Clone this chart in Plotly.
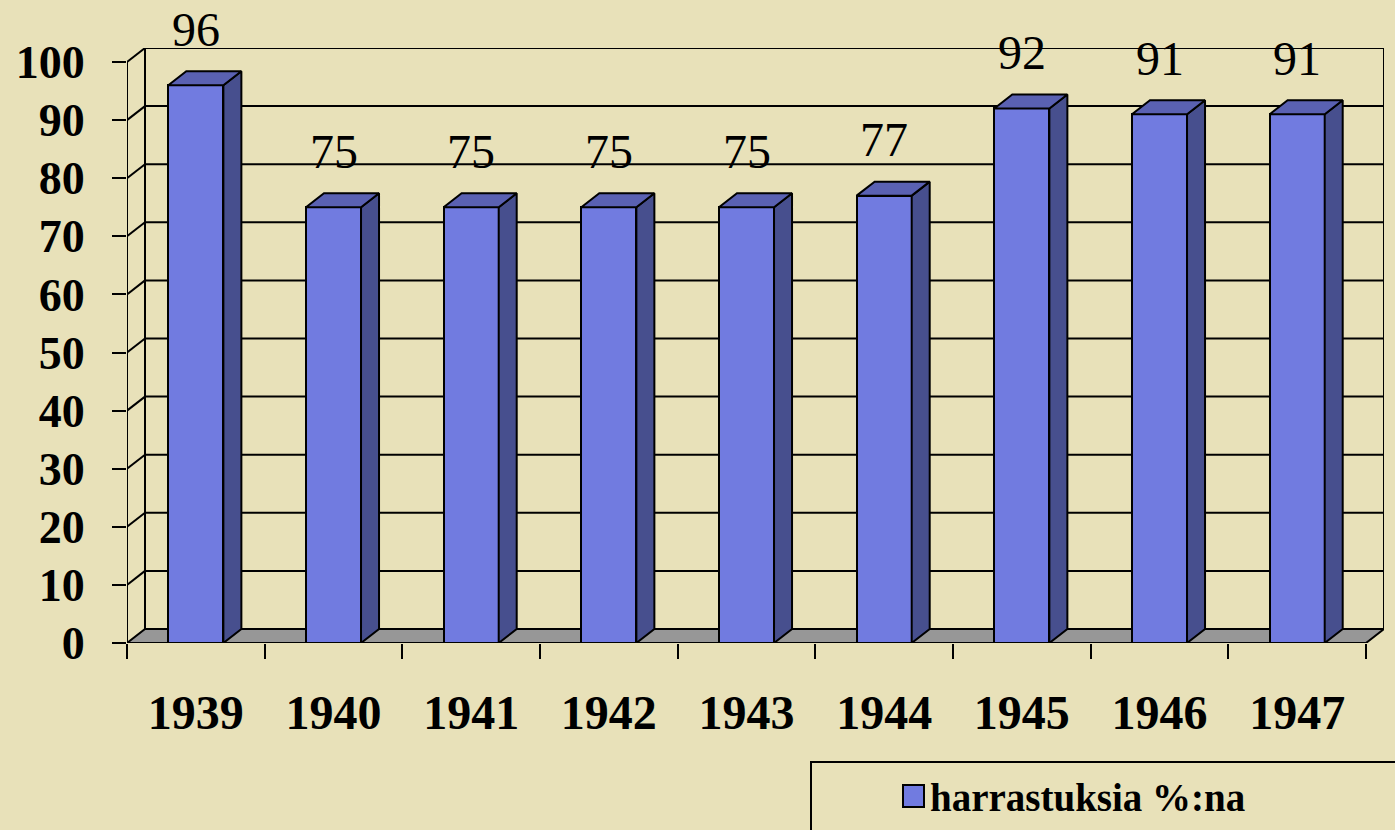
import plotly.graph_objects as go

# ---------------- data ----------------
years = ["1939", "1940", "1941", "1942", "1943", "1944", "1945", "1946", "1947"]
values = [96, 75, 75, 75, 75, 77, 92, 91, 91]
y_ticks = [0, 10, 20, 30, 40, 50, 60, 70, 80, 90, 100]
series_name = "harrastuksia %:na"

# ---------------- style ----------------
BG = "#E8E1B9"
FRONT = "#717BE0"
SIDE = "#474F8E"
TOP = "#5A61B2"
FLOOR = "#979797"
EDGE = "black"
FONT = "Liberation Serif"
LW = 2

W, H = 1395, 830
L, R, T, B = 127, 11, 48, 187
pw, ph = W - L - R, H - T - B
n = len(years)
ymax = y_ticks[-1]
DX_PX, DY_PX = 18, 14
dxu = DX_PX * n / (pw - DX_PX)          # depth offset in x data units
dyu = DY_PX * ymax / (ph - DY_PX)       # depth offset in y data units
bw = 0.4
xc = [i + 0.5 for i in range(n)]

fig = go.Figure()

# front faces
fig.add_trace(go.Bar(
    x=xc, y=values, width=bw, name=series_name,
    marker=dict(color=FRONT, line=dict(color=EDGE, width=LW)),
    showlegend=False, hovertemplate="%{y}<extra></extra>"))

# side faces
sx, sy = [], []
for c, v in zip(xc, values):
    x1 = c + bw / 2
    sx += [x1, x1 + dxu, x1 + dxu, x1, x1, None]
    sy += [0, dyu, v + dyu, v, 0, None]
fig.add_trace(go.Scatter(x=sx, y=sy, mode="lines", fill="toself", fillcolor=SIDE,
                         line=dict(color=EDGE, width=LW), showlegend=False, hoverinfo="skip"))
# top faces
tx, ty = [], []
for c, v in zip(xc, values):
    x0, x1 = c - bw / 2, c + bw / 2
    tx += [x0, x1, x1 + dxu, x0 + dxu, x0, None]
    ty += [v, v, v + dyu, v + dyu, v, None]
fig.add_trace(go.Scatter(x=tx, y=ty, mode="lines", fill="toself", fillcolor=TOP,
                         line=dict(color=EDGE, width=LW), showlegend=False, hoverinfo="skip"))

# walls, gridlines, floor
shapes = []
line = dict(color=EDGE, width=LW)
for v in y_ticks[1:]:
    shapes.append(dict(type="line", xref="x", yref="y", x0=dxu, x1=n + dxu, y0=v + dyu, y1=v + dyu,
                       line=line, layer="below"))
    shapes.append(dict(type="line", xref="x", yref="y", x0=0, x1=dxu, y0=v, y1=v + dyu,
                       line=line, layer="below"))
# back-left vertical, right vertical, front axis
shapes.append(dict(type="line", xref="x", yref="y", x0=dxu, x1=dxu, y0=dyu, y1=ymax + dyu, line=line, layer="below"))
shapes.append(dict(type="line", xref="x", yref="y", x0=n + dxu, x1=n + dxu, y0=dyu, y1=ymax + dyu, line=line, layer="below"))
shapes.append(dict(type="line", xref="x", yref="y", x0=0, x1=0, y0=0, y1=ymax, line=line, layer="below"))
# floor
shapes.append(dict(type="path", xref="x", yref="y",
                   path=f"M0,0 L{n},0 L{n + dxu},{dyu} L{dxu},{dyu} Z",
                   fillcolor=FLOOR, line=line, layer="below"))

# custom legend (box extends past page edge as in reference)
def px_x(p):
    return (p - L) / pw

def px_y(p):
    return (H - B - p) / ph

shapes.append(dict(type="rect", xref="paper", yref="paper",
                   x0=px_x(811), x1=px_x(W + 20), y0=px_y(H + 20), y1=px_y(762),
                   line=dict(color=EDGE, width=LW), fillcolor=BG, layer="above"))
shapes.append(dict(type="rect", xref="paper", yref="paper",
                   x0=px_x(903), x1=px_x(924), y0=px_y(807), y1=px_y(785),
                   line=dict(color=EDGE, width=2), fillcolor=FRONT, layer="above"))

annotations = [dict(x=px_x(928), y=px_y(797), xref="paper", yref="paper", text=series_name,
                    showarrow=False, xanchor="left", yanchor="middle",
                    font=dict(family=FONT, size=39, color="black", weight="bold"))]

# data labels
for c, v in zip(xc, values):
    annotations.append(dict(x=c, y=v, xref="x", yref="y", text=str(v), showarrow=False,
                            yshift=56, xanchor="center", yanchor="middle",
                            font=dict(family=FONT, size=48, color="black")))

fig.update_layout(
    width=W, height=H, autosize=False,
    margin=dict(l=L, r=R, t=T, b=B, pad=0),
    paper_bgcolor=BG, plot_bgcolor=BG,
    shapes=shapes, annotations=annotations, showlegend=False,
    bargap=0,
    xaxis=dict(range=[0, n + dxu], showgrid=False, zeroline=False, showline=False,
               automargin=False,
               tickmode="array", tickvals=xc, ticktext=years, ticks="",
               tickfont=dict(family=FONT, size=48, color="black", weight="bold"),
               ticklabelstandoff=37,
               minor=dict(tickmode="array", tickvals=list(range(n + 1)), ticks="outside",
                          ticklen=15, tickwidth=LW, tickcolor=EDGE, showgrid=False),
               fixedrange=True),
    yaxis=dict(range=[0, ymax + dyu], showgrid=False, zeroline=False, showline=False,
               automargin=False,
               tickmode="array", tickvals=y_ticks, ticks="outside", ticklen=14,
               tickwidth=LW, tickcolor=EDGE,
               tickfont=dict(family=FONT, size=46, color="black", weight="bold"),
               ticklabelstandoff=18, fixedrange=True),
)

fig.write_html("out.html",
               config={"displayModeBar": False},
               post_script="document.body.style.margin='0';document.body.style.padding='0';"
                           "document.body.style.overflow='hidden';")
